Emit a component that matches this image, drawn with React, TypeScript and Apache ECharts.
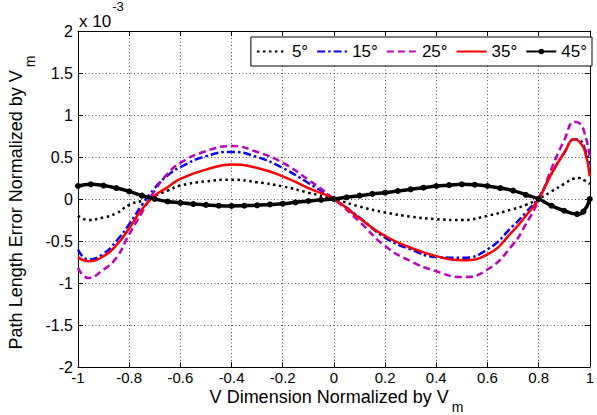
import React, { useEffect, useRef } from "react";
import * as echarts from "echarts";

const xs = [-1, -0.96, -0.9, -0.85, -0.8, -0.75, -0.7, -0.65, -0.6, -0.5, -0.4, -0.3, -0.2, -0.1, 0, 0.1, 0.2, 0.3, 0.4, 0.5, 0.6, 0.7, 0.75, 0.8, 0.85, 0.9, 0.94, 0.96, 0.98, 1];
const s5 = [-0.2, -0.25, -0.22, -0.17, -0.07, -0.02, 0.04, 0.1, 0.16, 0.21, 0.23, 0.2, 0.15, 0.075, 0, -0.09, -0.16, -0.21, -0.24, -0.25, -0.2, -0.12, -0.07, 0, 0.09, 0.18, 0.245, 0.25, 0.22, 0.18];
const s15 = [-0.6, -0.72, -0.65, -0.5, -0.3, -0.07, 0.13, 0.28, 0.38, 0.51, 0.56, 0.5, 0.37, 0.19, 0, -0.22, -0.46, -0.6, -0.69, -0.7, -0.6, -0.32, -0.16, 0.02, 0.3, 0.55, 0.71, 0.7, 0.6, 0.41];
const s25 = [-0.82, -0.94, -0.84, -0.7, -0.42, -0.16, 0.1, 0.3, 0.43, 0.57, 0.63, 0.56, 0.43, 0.23, 0, -0.27, -0.56, -0.74, -0.86, -0.93, -0.84, -0.54, -0.3, -0.02, 0.36, 0.7, 0.92, 0.9, 0.78, 0.51];
const s35 = [-0.69, -0.74, -0.68, -0.55, -0.35, -0.12, 0.04, 0.14, 0.24, 0.35, 0.41, 0.37, 0.27, 0.13, 0, -0.23, -0.44, -0.58, -0.68, -0.73, -0.66, -0.38, -0.2, 0, 0.3, 0.55, 0.71, 0.68, 0.58, 0.27];

const xs45 = [-1, -0.95, -0.9, -0.85, -0.8, -0.75, -0.7, -0.65, -0.6, -0.55, -0.5, -0.45, -0.4, -0.35, -0.3, -0.25, -0.2, -0.15, -0.1, -0.05, 0, 0.05, 0.1, 0.15, 0.2, 0.25, 0.3, 0.35, 0.4, 0.45, 0.5, 0.55, 0.6, 0.65, 0.7, 0.75, 0.8, 0.85, 0.9, 0.95, 0.975, 1];
const s45 = [0.155, 0.175, 0.16, 0.13, 0.09, 0.04, 0, -0.03, -0.045, -0.06, -0.07, -0.08, -0.083, -0.08, -0.075, -0.065, -0.056, -0.04, -0.024, -0.01, 0, 0.02, 0.04, 0.06, 0.075, 0.095, 0.115, 0.135, 0.155, 0.165, 0.175, 0.17, 0.155, 0.13, 0.1, 0.05, 0, -0.08, -0.14, -0.18, -0.15, 0];

const names = ["5°", "15°", "25°", "35°", "45°"];
const xTicks = { min: -1, max: 1, interval: 0.2 };
const yTicks = { min: -2, max: 2, interval: 0.5 };

const xTitle = "V Dimension Normalized by V";
const yTitle = "Path Length Error Normalized by V";
const subText = "m";
const scaleMain = "x 10";
const scaleExp = "-3";

const FONT = "'Liberation Sans', Arial, sans-serif";

const pairs = (x: number[], y: number[]) => x.map((v, i) => [v, y[i]]);
const fmt = (v: number) => String(Math.round(v * 10) / 10);

function measure(text: string, size: number): number {
  const ctx = document.createElement("canvas").getContext("2d");
  if (!ctx) return text.length * size * 0.5;
  ctx.font = `${size}px 'Liberation Sans', Arial, sans-serif`;
  return ctx.measureText(text).width;
}

export default function App() {
  const ref = useRef<HTMLDivElement>(null);
  useEffect(() => {
    const chart = echarts.init(ref.current!, null, { renderer: "svg" });
    const splitLine = { show: true, lineStyle: { color: "#555", type: [1, 2.5], width: 1 } };
    const axisLine = { show: true, onZero: false, lineStyle: { color: "#000", width: 1 } };
    const axisTick = { show: true, inside: true, length: 5, lineStyle: { color: "#000" } };

    const TS = 18;
    const SS = 14;
    const wX = measure(xTitle, TS);
    const wY = measure(yTitle, TS);
    const wSub = measure(subText, SS);
    const xTotal = wX + 3 + wSub;
    const xLeft = 336.5 - xTotal / 2;
    const yTotal = wY + 3 + wSub;
    const yStart = 202.5 + yTotal / 2;
    const wScale = measure(scaleMain, 17);

    const txt = (text: string, size: number, x: number, y: number, lh: number, rot = 0) => ({
      type: "text",
      x,
      y,
      rotation: rot,
      silent: true,
      style: {
        text,
        fontSize: size,
        lineHeight: lh,
        fontFamily: FONT,
        fill: "#000",
        align: "left",
        verticalAlign: "middle",
      },
    });

    const hidden = { opacity: 0, color: "rgba(0,0,0,0)", borderWidth: 0 };

    chart.setOption({
      animation: false,
      backgroundColor: "#fff",
      textStyle: { fontFamily: FONT },
      grid: { left: 78, right: 2, top: 31, bottom: 48, containLabel: false },
      legend: {
        data: [
          { name: names[0], itemStyle: hidden },
          { name: names[1], itemStyle: hidden },
          { name: names[2], itemStyle: hidden },
          { name: names[3], itemStyle: hidden },
          { name: names[4] },
        ],
        right: 5,
        top: 37,
        backgroundColor: "#fff",
        borderColor: "#000",
        borderWidth: 1,
        padding: [6, 5],
        itemWidth: 30,
        itemHeight: 7,
        itemGap: 8,
        textStyle: { fontSize: 17, fontFamily: FONT, color: "#000" },
      },
      xAxis: [
        {
          type: "value",
          ...xTicks,
          axisLine,
          axisTick,
          splitLine,
          axisLabel: { fontSize: 15, lineHeight: 14, color: "#000", fontFamily: FONT, margin: 3, formatter: fmt },
        },
        {
          type: "value",
          position: "top",
          ...xTicks,
          axisLine,
          axisTick,
          splitLine: { show: false },
          axisLabel: { show: false },
        },
      ],
      yAxis: [
        {
          type: "value",
          ...yTicks,
          axisLine,
          axisTick,
          splitLine,
          axisLabel: { fontSize: 16, color: "#000", fontFamily: FONT, margin: 5, formatter: fmt },
        },
        {
          type: "value",
          position: "right",
          ...yTicks,
          axisLine,
          axisTick,
          splitLine: { show: false },
          axisLabel: { show: false },
        },
      ],
      graphic: [
        txt(xTitle, TS, xLeft, 397, 17),
        txt(subText, SS, xLeft + wX + 3, 407, 13),
        txt(yTitle, TS, 15.5, yStart, 20, Math.PI / 2),
        txt(subText, SS, 30, yStart - wY - 3, 14, Math.PI / 2),
        txt(scaleMain, 17, 79, 21, 18),
        txt(scaleExp, 13, 79 + wScale + 1, 6, 12),
      ],
      series: [
        {
          name: names[0],
          type: "line",
          smooth: true,
          showSymbol: false,
          symbol: "none",
          data: pairs(xs, s5),
          lineStyle: { color: "#000", width: 2.5, type: [2.5, 3.5] },
          itemStyle: { color: "#000" },
        },
        {
          name: names[1],
          type: "line",
          smooth: true,
          showSymbol: false,
          symbol: "none",
          data: pairs(xs, s15),
          lineStyle: { color: "#0000ff", width: 2.5, type: [8, 3, 2.5, 3] },
          itemStyle: { color: "#0000ff" },
        },
        {
          name: names[2],
          type: "line",
          smooth: true,
          showSymbol: false,
          symbol: "none",
          data: pairs(xs, s25),
          lineStyle: { color: "#bf00bf", width: 2.5, type: [7, 4] },
          itemStyle: { color: "#bf00bf" },
        },
        {
          name: names[3],
          type: "line",
          smooth: true,
          showSymbol: false,
          symbol: "none",
          data: pairs(xs, s35),
          lineStyle: { color: "#ff0000", width: 2.5 },
          itemStyle: { color: "#ff0000" },
        },
        {
          name: names[4],
          type: "line",
          smooth: true,
          symbol: "circle",
          symbolSize: 6,
          showSymbol: true,
          data: pairs(xs45, s45),
          lineStyle: { color: "#000", width: 3.5 },
          itemStyle: { color: "#000" },
        },
      ],
    });
    return () => chart.dispose();
  }, []);
  return (
    <div
      ref={ref}
      style={{ position: "absolute", left: 0, top: 0, width: 597, height: 415, background: "#fff" }}
    />
  );
}
